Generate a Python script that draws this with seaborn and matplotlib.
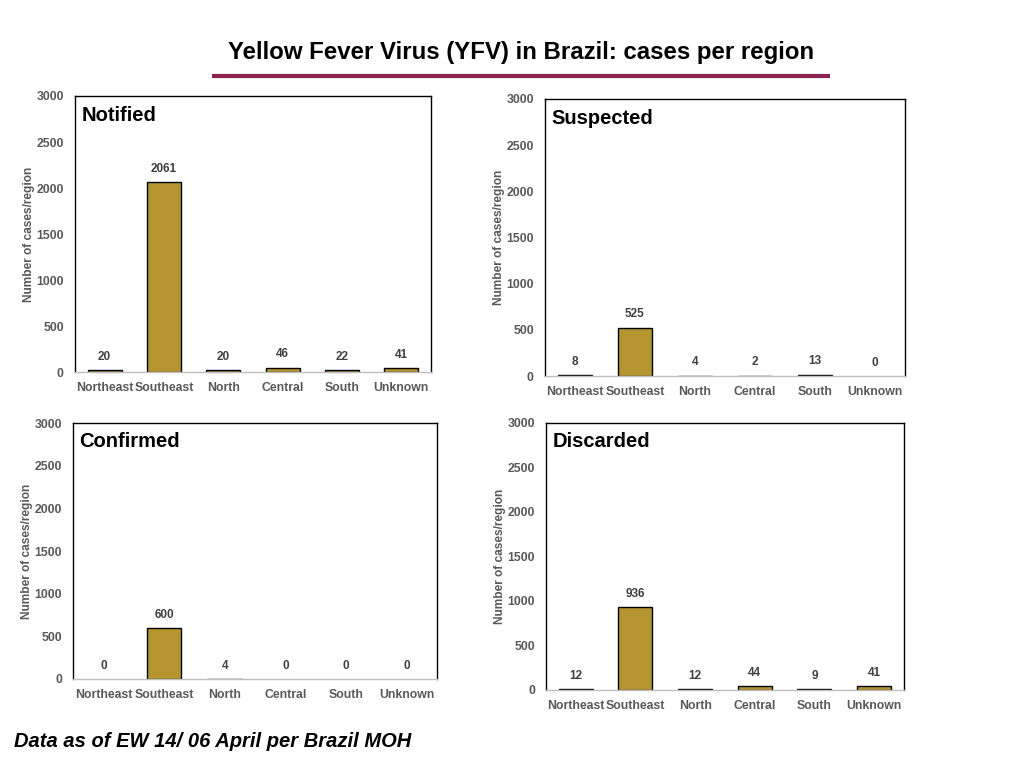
import pandas as pd
import matplotlib.pyplot as plt
import seaborn as sns

# Data
regions = ["Northeast", "Southeast", "North", "Central", "South", "Unknown"]
notified = [20, 2061, 20, 46, 22, 41]
suspected = [8, 525, 4, 2, 13, 0]
confirmed = [0, 600, 4, 0, 0, 0]
discarded = [12, 936, 12, 44, 9, 41]

panels = [
    ("Notified", notified, [0.0732, 0.5156, 0.3477, 0.3594]),
    ("Suspected", suspected, [0.5322, 0.5104, 0.3516, 0.3607]),
    ("Confirmed", confirmed, [0.0713, 0.1159, 0.3555, 0.3333]),
    ("Discarded", discarded, [0.5332, 0.1016, 0.3496, 0.3477]),
]

sns.set_style("white")
plt.rcParams["font.family"] = ["Liberation Sans", "DejaVu Sans"]
plt.rcParams["text.color"] = "black"

bar_color = "#B5952F"
gray = "#595959"

fig = plt.figure(figsize=(10.24, 7.68), dpi=100)

for name, values, rect in panels:
    ax = fig.add_axes(rect)
    df = pd.DataFrame({"region": regions, "cases": values})
    sns.barplot(data=df, x="region", y="cases", color=bar_color,
                edgecolor="black", linewidth=1, width=0.57, saturation=1, ax=ax)
    # zero-height bars show nothing in the original
    for patch in ax.patches:
        if patch.get_height() == 0:
            patch.set_linewidth(0)
    ax.set_ylim(0, 3000)
    ax.set_yticks([0, 500, 1000, 1500, 2000, 2500, 3000])
    ax.set_xlabel("")
    ax.set_ylabel("Number of cases/region", fontsize=8.6, fontweight="bold", color=gray, labelpad=1)
    ax.tick_params(axis="both", length=0, labelsize=8.8, labelcolor=gray)
    ax.tick_params(axis="y", pad=8)
    ax.tick_params(axis="x", pad=7)
    for lbl in ax.get_xticklabels() + ax.get_yticklabels():
        lbl.set_fontweight("bold")
    for side in ["top", "right", "left"]:
        ax.spines[side].set_color("black")
        ax.spines[side].set_linewidth(1)
    ax.spines["bottom"].set_color("#BFBFBF")
    ax.spines["bottom"].set_linewidth(1)
    # value labels above bars
    for i, v in enumerate(values):
        ax.text(i, v + 80, str(v), ha="center", va="bottom", fontsize=8.5,
                fontweight="bold", color="#404040")
    ax.text(0.018, 0.965, name, transform=ax.transAxes, ha="left", va="top",
            fontsize=14.5, fontweight="bold", color="black")

# Title and underline
fig.text(0.509, 0.932, "Yellow Fever Virus (YFV) in Brazil: cases per region",
         ha="center", va="center", fontsize=17.3, fontweight="bold", color="black")
fig.add_artist(plt.Line2D([0.207, 0.811], [0.901, 0.901], color="#8B2252",
                          linewidth=3, solid_capstyle="butt"))

# Footer
fig.text(0.014, 0.035, "Data as of EW 14/ 06 April per Brazil MOH", ha="left", va="center",
         fontsize=14.5, fontweight="bold", fontstyle="italic", color="black")

plt.savefig("out.png", dpi=100)
